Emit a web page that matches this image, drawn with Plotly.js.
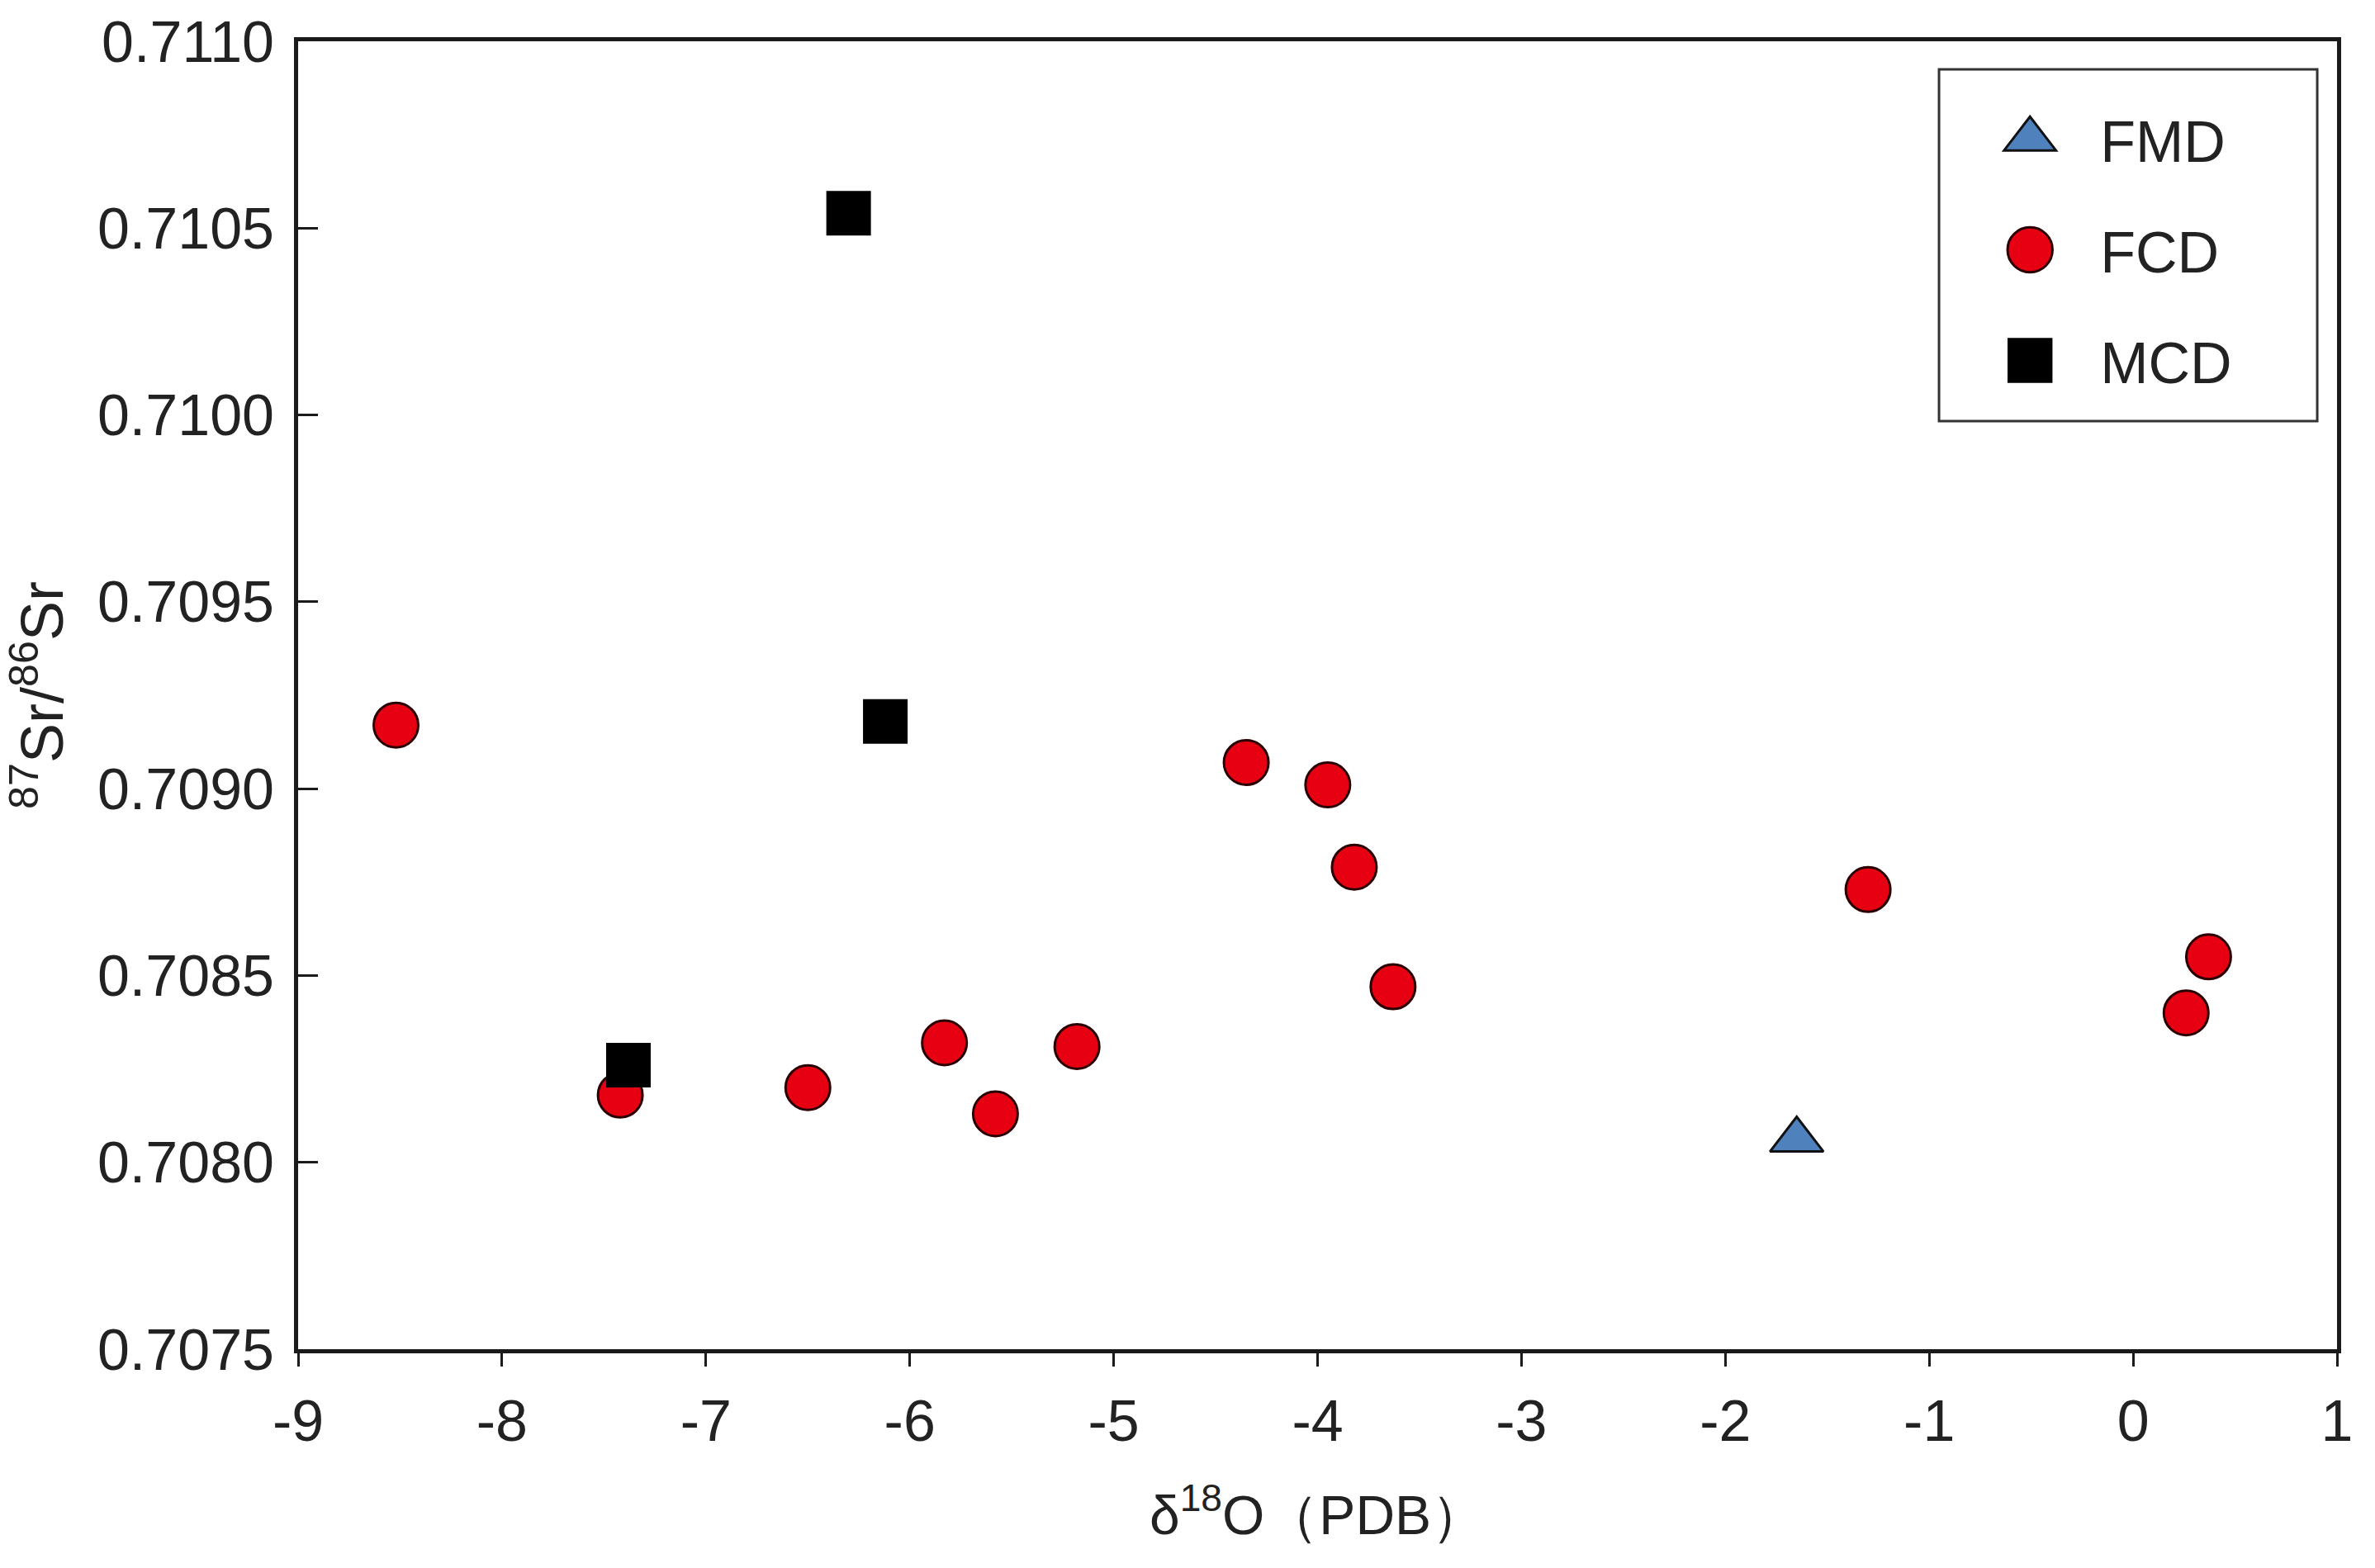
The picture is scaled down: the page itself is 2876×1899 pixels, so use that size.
<!DOCTYPE html>
<html>
<head>
<meta charset="utf-8">
<script src="https://cdn.plot.ly/plotly-3.0.1.min.js"></script>
<style>html,body{margin:0;padding:0;background:#fff;}#chart{width:2876px;height:1899px;}</style>
</head>
<body>
<div id="chart"></div>
<script>
// Data
const seriesNames = ["FMD", "FCD", "MCD"];
const fmdX = [-1.65];
const fmdY = [0.70806];
const fcdX = [-8.52, -7.42, -6.50, -5.83, -5.58, -5.18, -4.35, -3.95, -3.82, -3.63, -1.30, 0.26, 0.37];
const fcdY = [0.70917, 0.70818, 0.70820, 0.70832, 0.70813, 0.70831, 0.70907, 0.70901, 0.70879, 0.70847, 0.70873, 0.70840, 0.70855];
const mcdX = [-6.30, -6.12, -7.38];
const mcdY = [0.71054, 0.70918, 0.70826];
const xTicks = [-9, -8, -7, -6, -5, -4, -3, -2, -1, 0, 1];
const yTicks = [0.7075, 0.7080, 0.7085, 0.7090, 0.7095, 0.7100, 0.7105, 0.7110];

const FONT = "Liberation Sans, Arial, Helvetica, sans-serif";

const traces = [
  {x: fmdX, y: fmdY, name: seriesNames[0], type: "scatter", mode: "markers", legendgroup: "a",
   marker: {symbol: "triangle-up", size: 56, color: "#4f81bd", line: {color: "#111", width: 3}}},
  {x: fcdX, y: fcdY, name: seriesNames[1], type: "scatter", mode: "markers", legendgroup: "b",
   marker: {symbol: "circle", size: 54, color: "#e60012", line: {color: "#2a0000", width: 3}}},
  {x: mcdX, y: mcdY, name: seriesNames[2], type: "scatter", mode: "markers", legendgroup: "c",
   marker: {symbol: "square", size: 54, color: "#000000", line: {color: "#000", width: 0}}}
];

const layout = {
  width: 2876, height: 1899,
  margin: {l: 361, r: 46, t: 50, b: 265},
  paper_bgcolor: "#fff", plot_bgcolor: "#fff",
  font: {family: FONT, color: "#222"},
  showlegend: true,
  legend: {
    x: 0.815, y: 0.958, xanchor: "left", yanchor: "top",
    bgcolor: "rgba(0,0,0,0)", borderwidth: 0,
    font: {family: FONT, size: 70, color: "#222"},
    itemwidth: 160, tracegroupgap: 40, traceorder: "grouped"
  },
  shapes: [{type: "rect", xref: "paper", yref: "paper", x0: 0.8048, x1: 0.9903, y0: 0.7096, y1: 0.9785,
            line: {color: "#333", width: 3}, fillcolor: "rgba(0,0,0,0)"}],
  xaxis: {
    range: [-9, 1], tickvals: xTicks, ticktext: xTicks.map(String),
    showgrid: false, zeroline: false,
    showline: true, mirror: true, linecolor: "#1a1a1a", linewidth: 5,
    ticks: "outside", ticklen: 16, tickwidth: 3, tickcolor: "#1a1a1a",
    ticklabelstandoff: 6,
    tickfont: {family: FONT, size: 70, color: "#222"},
    title: {text: "δ<sup>18</sup>O（PDB）", font: {family: FONT, size: 66, color: "#222"}, standoff: 54}
  },
  yaxis: {
    range: [0.7075, 0.7110], tickvals: yTicks, ticktext: yTicks.map(v => v.toFixed(4)),
    showgrid: false, zeroline: false,
    showline: true, mirror: true, linecolor: "#1a1a1a", linewidth: 5,
    ticks: "inside", ticklen: 24, tickwidth: 3, tickcolor: "#1a1a1a",
    ticklabelstandoff: 10,
    tickfont: {family: FONT, size: 70, color: "#222"},
    title: {text: "<sup>87</sup>Sr/<sup>86</sup>Sr", font: {family: FONT, size: 72, color: "#222"}, standoff: 34}
  }
};

Plotly.newPlot("chart", traces, layout, {displayModeBar: false, staticPlot: true}).then(function () {
  // enlarge legend symbols (Plotly caps them at 16px)
  const scale = 3.4;
  document.querySelectorAll(".legend path.scatterpts").forEach(function (p) {
    const t = p.getAttribute("transform") || "";
    p.setAttribute("transform", t + " scale(" + scale + ")");
    const sw = parseFloat(p.style.strokeWidth || "0");
    if (sw > 0) p.style.strokeWidth = (3 / scale) + "px";
  });
});
</script>
</body>
</html>
